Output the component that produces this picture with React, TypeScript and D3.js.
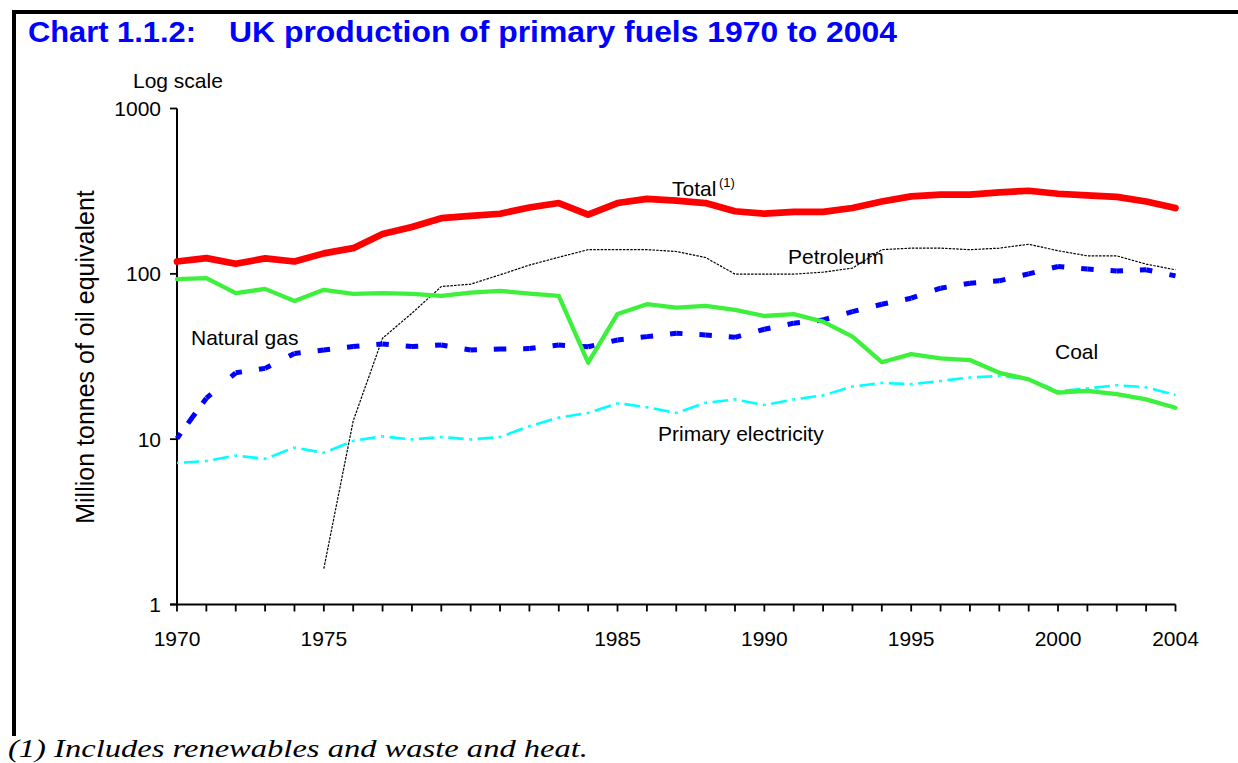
import React from "react";
import * as d3 from "d3";

const years: number[] = d3.range(1970, 2005);

const total: number[] = [118.7, 124.5, 115, 124, 118.7, 133, 143, 174, 192, 217, 224, 231, 252, 268, 228, 268, 284, 277, 268, 239, 231, 237, 237, 250, 274, 294, 301, 301, 311, 318, 305, 298, 292, 274, 250];
const coal: number[] = [92.9, 94.2, 76.4, 81.1, 68.6, 80, 75.6, 76.4, 75.6, 73.5, 77, 78.9, 76, 73.5, 29, 57.2, 65.5, 62.5, 64, 60.5, 55.6, 57, 51.4, 41.7, 29.2, 32.7, 30.8, 30.1, 25.2, 23, 19.1, 19.6, 18.7, 17.4, 15.5];
const naturalGas: number[] = [10.1, 17.7, 25.2, 26.8, 33, 34.6, 36.3, 37.6, 36.3, 37.1, 34.6, 35.1, 35.3, 37.1, 36.2, 39.8, 41.7, 43.7, 42.7, 41.3, 46.2, 50.3, 52.6, 59.1, 65.5, 71.2, 81.9, 87.8, 90.7, 100, 110.8, 107, 104, 105.8, 97.2];
const petroleum: (number | null)[] = [null, null, null, null, null, 1.65, 12.9, 40.8, 57.8, 83.8, 86.6, 98.6, 113, 126, 140, 140, 140, 136.5, 125.5, 99.6, 99.6, 99.6, 102.4, 108.3, 140, 143, 143, 140, 143, 151, 138, 128.5, 128.5, 114.5, 105.8];
const primaryElectricity: number[] = [7.18, 7.38, 7.96, 7.6, 8.9, 8.26, 9.77, 10.4, 9.96, 10.3, 9.96, 10.3, 12, 13.5, 14.4, 16.5, 15.6, 14.4, 16.6, 17.4, 16.1, 17.4, 18.4, 20.8, 21.9, 21.5, 22.5, 23.6, 24.1, 23.1, 19.5, 20.3, 21.2, 20.6, 18.5];

const yTicks: number[] = [1, 10, 100, 1000];
const xTickLabels: number[] = [1970, 1975, 1985, 1990, 1995, 2000, 2004];

const FONT = "Arial, 'Liberation Sans', Helvetica, sans-serif";

export default function App() {
  const x = d3.scaleLinear().domain([1970, 2004]).range([177, 1175.5]);
  const y = d3.scaleLog().domain([1, 1000]).range([604.5, 108.5]);
  const yearW = x(1971) - x(1970);

  const pts = (vals: (number | null)[]) =>
    years.map((yr, i) => (vals[i] == null ? null : [x(yr), y(vals[i] as number)] as [number, number]));

  const lineOf = (vals: (number | null)[]) =>
    d3
      .line<[number, number] | null>()
      .defined((d) => d != null)
      .x((d) => (d as [number, number])[0])
      .y((d) => (d as [number, number])[1])(pts(vals)) || "";

  // per-segment dash patterns so that marks centre on data points
  const segments = (vals: (number | null)[]) => {
    const p = pts(vals);
    const out: { x1: number; y1: number; x2: number; y2: number; len: number }[] = [];
    for (let i = 0; i < p.length - 1; i++) {
      const a = p[i];
      const b = p[i + 1];
      if (!a || !b) continue;
      const len = Math.hypot(b[0] - a[0], b[1] - a[1]);
      out.push({ x1: a[0], y1: a[1], x2: b[0], y2: b[1], len });
    }
    return out;
  };

  const gasDash = (len: number) => {
    const n = Math.max(1, Math.round(len / yearW));
    const per = len / n;
    const d = 12.5;
    return Array(n).fill(`${d / 2},${per - d},${d / 2},0`).join(",");
  };
  const elecDash = (len: number) => {
    const n = Math.max(1, Math.round(len / yearW));
    const per = len / n;
    const dot = 3;
    const g = 5.5;
    const D = per - dot - 2 * g;
    return Array(n).fill(`${dot / 2},${g},${D},${g},${dot / 2},0`).join(",");
  };

  const y0 = y(1);

  return (
    <svg
      width={1238}
      height={763}
      style={{ position: "absolute", left: 0, top: 0, background: "#fff" }}
      fontFamily={FONT}
    >
      {/* frame */}
      <line x1={12} x2={1238} y1={12} y2={12} stroke="#000" strokeWidth={4} />
      <line x1={14} x2={14} y1={10} y2={736} stroke="#000" strokeWidth={4} />

      {/* title */}
      <text x={28} y={42} fill="#0000FF" fontWeight="bold" fontSize={29} textLength={168} lengthAdjust="spacingAndGlyphs">
        Chart 1.1.2:
      </text>
      <text x={229} y={42} fill="#0000FF" fontWeight="bold" fontSize={29} textLength={668} lengthAdjust="spacingAndGlyphs">
        UK production of primary fuels 1970 to 2004
      </text>

      <text x={133} y={88} fontSize={21} fill="#000">
        Log scale
      </text>

      {/* y axis title */}
      <text transform={`translate(94,357) rotate(-90)`} textAnchor="middle" fontSize={25} fill="#000">
        Million tonnes of oil equivalent
      </text>

      {/* axes */}
      <line x1={x(1970)} x2={x(1970)} y1={y(1000)} y2={y0} stroke="#000" strokeWidth={2} />
      <line x1={x(1970) - 7} x2={x(2004)} y1={y0} y2={y0} stroke="#000" strokeWidth={2} />
      {yTicks.map((t) => (
        <g key={t}>
          <line x1={x(1970) - 7} x2={x(1970)} y1={y(t)} y2={y(t)} stroke="#000" strokeWidth={1.8} />
          <text x={x(1970) - 16} y={y(t) + 7.5} textAnchor="end" fontSize={21} fill="#000">
            {t}
          </text>
        </g>
      ))}
      {years.map((yr) => (
        <line key={yr} x1={x(yr)} x2={x(yr)} y1={y0} y2={y0 + 7} stroke="#000" strokeWidth={1.8} />
      ))}
      {xTickLabels.map((yr) => (
        <text key={yr} x={x(yr)} y={646} textAnchor="middle" fontSize={21} fill="#000">
          {yr}
        </text>
      ))}

      {/* primary electricity: dash-dot */}
      {segments(primaryElectricity).map((s, i) => (
        <line key={"e" + i} x1={s.x1} y1={s.y1} x2={s.x2} y2={s.y2} stroke="#00FFFF" strokeWidth={2.6} strokeDasharray={elecDash(s.len)} />
      ))}
      {/* petroleum: fine dots */}
      <path d={lineOf(petroleum)} fill="none" stroke="#000" strokeWidth={1.2} strokeDasharray="2.5,1.2" />
      {/* natural gas: thick dashes */}
      {segments(naturalGas).map((s, i) => (
        <line key={"g" + i} x1={s.x1} y1={s.y1} x2={s.x2} y2={s.y2} stroke="#0000FF" strokeWidth={5} strokeDasharray={gasDash(s.len)} />
      ))}
      {/* coal */}
      <path d={lineOf(coal)} fill="none" stroke="#3CF03C" strokeWidth={4.3} strokeLinejoin="round" strokeLinecap="round" />
      {/* total */}
      <path d={lineOf(total)} fill="none" stroke="#FF0000" strokeWidth={6.7} strokeLinejoin="round" strokeLinecap="round" />

      {/* series labels */}
      <text x={672} y={196} fontSize={21} fill="#000">
        Total
      </text>
      <text x={719} y={187} fontSize={13} fill="#000">
        (1)
      </text>
      <text x={788} y={264} fontSize={21} fill="#000">
        Petroleum
      </text>
      <text x={191} y={345} fontSize={21} fill="#000">
        Natural gas
      </text>
      <text x={1055} y={359} fontSize={21} fill="#000">
        Coal
      </text>
      <text x={658} y={441} fontSize={21} fill="#000">
        Primary electricity
      </text>

      {/* footnote */}
      <text
        x={8}
        y={757}
        fontFamily="'Liberation Serif', 'Times New Roman', serif"
        fontStyle="italic"
        fontSize={25}
        fill="#000"
        textLength={580}
        lengthAdjust="spacingAndGlyphs"
      >
        (1) Includes renewables and waste and heat.
      </text>
    </svg>
  );
}
